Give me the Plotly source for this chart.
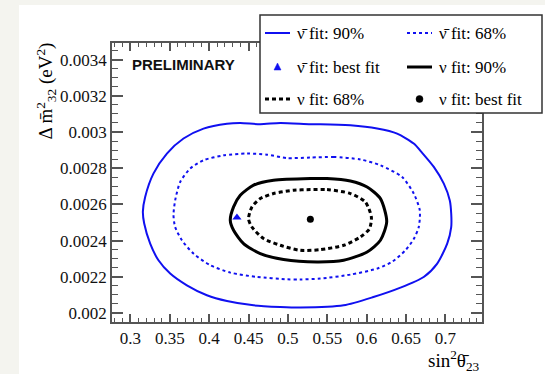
import plotly.graph_objects as go

# ---------------- data ----------------
anti90_x = [0.4903, 0.5285, 0.5412, 0.5794, 0.6133, 0.6387, 0.6598, 0.6705, 0.6853, 0.6980,
            0.7056, 0.7074, 0.7074, 0.7023, 0.6896, 0.6725, 0.6429, 0.6086, 0.5708, 0.5161,
            0.4903, 0.4564, 0.4226, 0.3971, 0.3717, 0.3505, 0.3356, 0.3251, 0.3175, 0.3158,
            0.3187, 0.3292, 0.3463, 0.3674, 0.3928, 0.4226, 0.4395, 0.4649]
anti90_y = [0.003050, 0.003043, 0.003043, 0.003037, 0.003019, 0.002991, 0.002936, 0.002885, 0.002807, 0.002715,
            0.002622, 0.002550, 0.002475, 0.002383, 0.002273, 0.002199, 0.002140, 0.002088, 0.002042, 0.002030,
            0.002033, 0.002042, 0.002066, 0.002098, 0.002153, 0.002218, 0.002291, 0.002383, 0.002494, 0.002560,
            0.002641, 0.002770, 0.002881, 0.002964, 0.003019, 0.003046, 0.003050, 0.003043]

anti68_x = [0.5285, 0.5581, 0.5921, 0.6175, 0.6451, 0.6598, 0.6675, 0.6662, 0.6600,
            0.6490, 0.6330, 0.6133, 0.5794, 0.5412, 0.5158, 0.4989, 0.4607, 0.4268, 0.4013,
            0.3801, 0.3654, 0.3568, 0.3547, 0.3568, 0.3632, 0.3759, 0.3928, 0.4182, 0.4480, 0.4734, 0.4989]
anti68_y = [0.002859, 0.002862, 0.002848, 0.002816, 0.002751, 0.002660, 0.002567, 0.002475, 0.002410,
            0.002345, 0.002285, 0.002245, 0.002212, 0.002190, 0.002185, 0.002186, 0.002199, 0.002223, 0.002264,
            0.002328, 0.002402, 0.002475, 0.002540, 0.002622, 0.002724, 0.002798, 0.002844, 0.002871, 0.002881, 0.002875, 0.002856]

nu90_x = [0.5285, 0.5497, 0.5794, 0.6006, 0.6175, 0.6255, 0.6175, 0.6006, 0.5708, 0.5370,
          0.4945, 0.4649, 0.4437, 0.4310, 0.4268, 0.4310, 0.4395, 0.4564, 0.4818]
nu90_y = [0.002743, 0.002743, 0.002729, 0.002696, 0.002632, 0.002505, 0.002402, 0.002337, 0.002291, 0.002282,
          0.002295, 0.002328, 0.002383, 0.002457, 0.002512, 0.002586, 0.002650, 0.002706, 0.002733]

nu68_x = [0.5285, 0.5497, 0.5794, 0.5984, 0.6060, 0.6035, 0.5921, 0.5708, 0.5412, 0.5158,
          0.4903, 0.4691, 0.4543, 0.4500, 0.4543, 0.4649, 0.4818, 0.5072]
nu68_y = [0.002682, 0.002682, 0.002660, 0.002613, 0.002530, 0.002465, 0.002420, 0.002374, 0.002350, 0.002346,
          0.002374, 0.002411, 0.002475, 0.002520, 0.002586, 0.002632, 0.002660, 0.002678]

anti_best = (0.4353, 0.002527)
nu_best = (0.5285, 0.002518)

legend_labels = ["\u03bd\u0304 fit: 90%", "\u03bd\u0304 fit: 68%", "\u03bd\u0304 fit: best fit",
                 "\u03bd fit: 90%", "\u03bd fit: 68%", "\u03bd fit: best fit"]

x_range = [0.2766, 0.7465]
y_range = [0.00195, 0.003492]

# ---------------- figure ----------------
BLUE = "#1010f0"
SERIF = "Liberation Serif, Times New Roman, Times, DejaVu Serif, serif"
SMOOTH = 0.7


def closed(a):
    a = list(a)
    return a + a[:1]


fig = go.Figure()
fig.add_trace(go.Scatter(x=closed(anti90_x), y=closed(anti90_y), mode="lines",
                         line=dict(color=BLUE, width=2, shape="spline", smoothing=SMOOTH),
                         name=legend_labels[0], showlegend=False))
fig.add_trace(go.Scatter(x=closed(anti68_x), y=closed(anti68_y), mode="lines",
                         line=dict(color=BLUE, width=2, dash="3px,3px", shape="spline", smoothing=SMOOTH),
                         name=legend_labels[1], showlegend=False))
fig.add_trace(go.Scatter(x=[anti_best[0]], y=[anti_best[1]], mode="markers",
                         marker=dict(symbol="triangle-up", color=BLUE, size=8),
                         name=legend_labels[2], showlegend=False))
fig.add_trace(go.Scatter(x=closed(nu90_x), y=closed(nu90_y), mode="lines",
                         line=dict(color="black", width=3, shape="spline", smoothing=SMOOTH),
                         name=legend_labels[3], showlegend=False))
fig.add_trace(go.Scatter(x=closed(nu68_x), y=closed(nu68_y), mode="lines",
                         line=dict(color="black", width=3, dash="4px,3px", shape="spline", smoothing=SMOOTH),
                         name=legend_labels[4], showlegend=False))
fig.add_trace(go.Scatter(x=[nu_best[0]], y=[nu_best[1]], mode="markers",
                         marker=dict(symbol="circle", color="black", size=7),
                         name=legend_labels[5], showlegend=False))

# pixel -> paper helpers (plot area 112..482 x 43..322)
L, R, T, B = 112, 482, 43, 322


def px(x):
    return (x - L) / (R - L)


def py(y):
    return (B - y) / (B - T)


axis_common = dict(showline=True, linecolor="#555", linewidth=1.5, mirror="allticks",
                   ticks="inside", tickcolor="#555", tickwidth=1.5,
                   showgrid=False, zeroline=False,
                   tickfont=dict(family=SERIF, size=17, color="#111"))

fig.update_xaxes(range=x_range, tick0=0.3, dtick=0.05, ticklen=8, tickformat=".2~f",
                 minor=dict(dtick=0.01, tick0=0.3, ticks="inside", ticklen=4, tickcolor="#555", tickwidth=1.2),
                 **axis_common)
fig.update_yaxes(range=y_range, tick0=0.002, dtick=0.0002, ticklen=11, tickformat=".4~f",
                 exponentformat="none",
                 minor=dict(dtick=0.00005, tick0=0.002, ticks="inside", ticklen=6, tickcolor="#555", tickwidth=1.2),
                 **axis_common)

shapes = []
annotations = []

# faint outer frame of the picture
shapes.append(dict(type="rect", xref="paper", yref="paper", layer="below",
                   x0=px(19), x1=px(546), y0=py(5), y1=py(375),
                   fillcolor="white", line=dict(width=0)))

# legend box
shapes.append(dict(type="rect", xref="paper", yref="paper",
                   x0=px(260), x1=px(542), y0=py(113), y1=py(15),
                   fillcolor="white", line=dict(color="#333", width=1.5)))

rows = [33, 67, 99]
col_line = [(265, 290), (407, 432)]
col_text = [295, 437]
entries = [  # (row, col, kind, color, dash, width)
    (0, 0, "line", BLUE, "solid", 2),
    (0, 1, "line", BLUE, "3px,3px", 2),
    (1, 0, "tri", BLUE, None, 0),
    (1, 1, "line", "black", "solid", 3),
    (2, 0, "line", "black", "4px,3px", 3),
    (2, 1, "dot", "black", None, 0),
]
for i, (r, c, kind, col, dash, w) in enumerate(entries):
    yy = rows[r]
    x0, x1 = col_line[c]
    xc = (x0 + x1) / 2
    if kind == "line":
        shapes.append(dict(type="line", xref="paper", yref="paper",
                           x0=px(x0), x1=px(x1), y0=py(yy), y1=py(yy),
                           line=dict(color=col, width=w, dash=dash)))
    elif kind == "tri":
        path = "M {} {} L {} {} L {} {} Z".format(px(xc - 3.5), py(yy + 3), px(xc + 3.5), py(yy + 3),
                                                  px(xc), py(yy - 4))
        shapes.append(dict(type="path", xref="paper", yref="paper", path=path,
                           fillcolor=col, line=dict(color=col, width=0.5)))
    else:
        shapes.append(dict(type="circle", xref="paper", yref="paper",
                           x0=px(xc - 3.5), x1=px(xc + 3.5), y0=py(yy + 3.5), y1=py(yy - 3.5),
                           fillcolor=col, line=dict(color=col, width=0.5)))
    annotations.append(dict(xref="paper", yref="paper", x=px(col_text[c]), y=py(yy),
                            xanchor="left", yanchor="middle", showarrow=False,
                            text=legend_labels[i], font=dict(family=SERIF, size=17, color="black")))

# PRELIMINARY
annotations.append(dict(xref="paper", yref="paper", x=px(130), y=py(65), xanchor="left", yanchor="middle",
                        showarrow=False, text="<b>PRELIMINARY</b>",
                        font=dict(family="Liberation Sans, Arial, sans-serif", size=15, color="#111")))

# axis titles
annotations.append(dict(xref="paper", yref="paper", x=px(46), y=py(41), xanchor="center", yanchor="top",
                        showarrow=False, textangle=-90,
                        text="\u0394 m\u0304<sup>2</sup><sub>32</sub> (eV<sup>2</sup>)",
                        font=dict(family=SERIF, size=19, color="black")))
annotations.append(dict(xref="paper", yref="paper", x=px(482), y=py(361), xanchor="right", yanchor="middle",
                        showarrow=False,
                        text="sin<sup>2</sup>\u03b8\u0304<sub>23</sub>",
                        font=dict(family=SERIF, size=19, color="black")))

fig.update_layout(width=545, height=374, margin=dict(l=L, r=545 - R, t=T, b=374 - B),
                  paper_bgcolor="#f4f4ef", plot_bgcolor="white",
                  shapes=shapes, annotations=annotations, showlegend=False)

fig.write_html("out.html")
